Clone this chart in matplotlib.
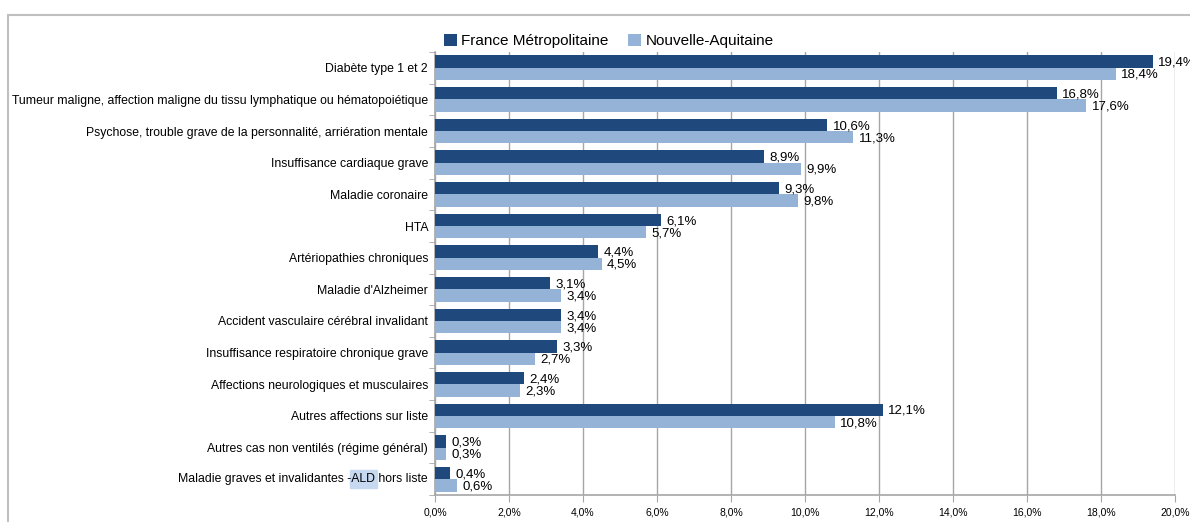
import matplotlib
matplotlib.use('Agg')
import matplotlib.pyplot as plt
from matplotlib.patches import Rectangle
import numpy as np

categories = [
    "Diabète type 1 et 2",
    "Tumeur maligne, affection maligne du tissu lymphatique ou hématopoiétique",
    "Psychose, trouble grave de la personnalité, arriération mentale",
    "Insuffisance cardiaque grave",
    "Maladie coronaire",
    "HTA",
    "Artériopathies chroniques",
    "Maladie d'Alzheimer",
    "Accident vasculaire cérébral invalidant",
    "Insuffisance respiratoire chronique grave",
    "Affections neurologiques et musculaires",
    "Autres affections sur liste",
    "Autres cas non ventilés (régime général)",
    "Maladie graves et invalidantes -ALD hors liste",
]
france = [19.4, 16.8, 10.6, 8.9, 9.3, 6.1, 4.4, 3.1, 3.4, 3.3, 2.4, 12.1, 0.3, 0.4]
nouvelle_aquitaine = [18.4, 17.6, 11.3, 9.9, 9.8, 5.7, 4.5, 3.4, 3.4, 2.7, 2.3, 10.8, 0.3, 0.6]
series_names = ["France Métropolitaine", "Nouvelle-Aquitaine"]
xticks = np.arange(0, 21, 2)

plt.rcParams['font.family'] = ['Liberation Sans', 'DejaVu Sans']

dark = '#1F497D'
light = '#95B3D7'
grid_col = '#A6A6A6'
cat_fs = 8.8
pad_pt = 5

fig = plt.figure(figsize=(11.9, 5.22), dpi=100)
ax = fig.add_axes([435 / 1190, 1 - 495 / 522, 740 / 1190, 443 / 522])

y = np.arange(len(categories))
h = 0.39
b1 = ax.barh(y - h / 2, france, height=h, color=dark, label=series_names[0], zorder=3)
b2 = ax.barh(y + h / 2, nouvelle_aquitaine, height=h, color=light, label=series_names[1], zorder=3)

def fmt(v):
    return ('%.1f' % v).replace('.', ',') + '%'

for bars, vals, dy in [(b1, france, 0.04), (b2, nouvelle_aquitaine, 0.03)]:
    for rect, v in zip(bars, vals):
        ax.annotate(fmt(v), (rect.get_width(), rect.get_y() + rect.get_height() / 2 + dy),
                    xytext=(4, 0), textcoords='offset points', va='center', ha='left',
                    fontsize=9.5, color='black', zorder=4, annotation_clip=False)

ax.set_xlim(0, 20)
ax.set_ylim(len(categories) - 0.5, -0.5)
ax.set_xticks(xticks)
ax.set_xticklabels([('%.1f' % t).replace('.', ',') + '%' for t in xticks], fontsize=7.5)
ax.set_yticks(y)
labels = list(categories)
labels[-1] = ''
ax.set_yticklabels(labels, fontsize=cat_fs)
ax.set_yticks(np.arange(-0.5, len(categories), 1), minor=True)
ax.tick_params(axis='y', which='major', length=0, pad=pad_pt)
ax.tick_params(axis='y', which='minor', length=4, color=grid_col, direction='out')
ax.tick_params(axis='x', length=5, color=grid_col, pad=4)
ax.xaxis.grid(True, color=grid_col, linewidth=1, zorder=0)
ax.set_axisbelow(True)
for s in ['top', 'right']:
    ax.spines[s].set_visible(False)
for s in ['left', 'bottom']:
    ax.spines[s].set_color(grid_col)
    ax.spines[s].set_linewidth(1.2)

# last label with highlighted "ALD"
fig.canvas.draw()
r = fig.canvas.get_renderer()
ref_lbl = ax.get_yticklabels()[0]
x0_px = ref_lbl.get_window_extent(r).x1
parts = ["Maladie graves et invalidantes -", "ALD", " hors liste"]
widths = []
for p in parts:
    t = fig.text(0, 0, p, fontsize=cat_fs)
    widths.append(t.get_window_extent(r).width)
    t.remove()
full = fig.text(0, 0, "".join(parts), fontsize=cat_fs)
total = full.get_window_extent(r).width
full.remove()
y_px = ax.transData.transform((0, y[-1]))[1]
start = x0_px - total
ald_x = start + widths[0]
inv = fig.transFigure.inverted()
fx, fy = inv.transform((ald_x, y_px))
fig.patches.append(Rectangle((fx - 1.5 / 1190, fy - 9 / 522), (widths[1] + 3) / 1190, 18 / 522,
                             transform=fig.transFigure, color='#C6D9F1', zorder=0))
fx2, _ = inv.transform((x0_px, y_px))
fig.text(fx2, fy, "".join(parts), fontsize=cat_fs, ha='right', va='center', zorder=2)

ax.legend(loc='lower center', bbox_to_anchor=(0.235, 0.995), ncol=2, frameon=False,
          fontsize=11, handlelength=0.8, handleheight=0.8, handletextpad=0.3, columnspacing=1.3,
          borderaxespad=0)

# outer frame
fig.patches.append(Rectangle((8 / 1190, -0.1), 1.2, 1 - 15 / 522 + 0.1, transform=fig.transFigure,
                             fill=False, edgecolor='#BFBFBF', linewidth=1.5))

fig.savefig('out.png', dpi=100)
